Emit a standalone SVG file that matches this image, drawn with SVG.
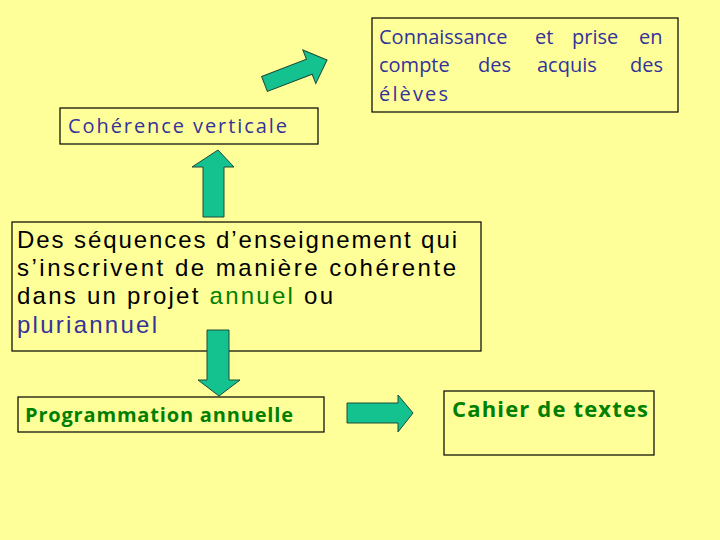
<svg xmlns="http://www.w3.org/2000/svg" width="720" height="540" viewBox="0 0 720 540">
<style>
.box{fill:#FFFF99;stroke:#000;stroke-width:1.2}
.t{font-family:"Open Sans","Liberation Sans",Arial,sans-serif}
.m{font-family:"Liberation Sans",Arial,sans-serif}
.blue{fill:#333399}
.green{fill:#008000}
.black{fill:#000}
.arrow{fill:#14C28F;stroke:#1E4A3A;stroke-width:1}
</style>
<rect width="720" height="540" fill="#FFFF99"/>
<g id="node-connaissance">
<rect class="box" x="372" y="18" width="306" height="94"/>
<text class="t blue" font-size="20" y="44"><tspan x="379">Connaissance</tspan><tspan x="535">et</tspan><tspan x="572">prise</tspan><tspan x="639">en</tspan></text>
<text class="t blue" font-size="20" y="72"><tspan x="379">compte</tspan><tspan x="478">des</tspan><tspan x="537">acquis</tspan><tspan x="630">des</tspan></text>
<text class="t blue" font-size="20" x="379" y="101" textLength="69" lengthAdjust="spacing">élèves</text>
</g>
<g id="node-coherence">
<rect class="box" x="60" y="108" width="258" height="36"/>
<text class="t blue" font-size="20" x="68" y="133" textLength="219" lengthAdjust="spacing">Cohérence verticale</text>
</g>
<g id="node-sequences">
<rect class="box" x="12" y="222" width="469" height="129"/>
<text class="m black" font-size="24" x="17" y="248" textLength="440" lengthAdjust="spacing">Des séquences d’enseignement qui</text>
<text class="m black" font-size="24" x="17" y="276" textLength="439" lengthAdjust="spacing">s’inscrivent de manière cohérente</text>
<text class="m black" font-size="24" x="17" y="304" textLength="316" lengthAdjust="spacing">dans un projet <tspan class="green">annuel</tspan> ou</text>
<text class="m blue" font-size="24" x="17" y="333" textLength="140" lengthAdjust="spacing">pluriannuel</text>
</g>
<g id="node-programmation">
<rect class="box" x="18" y="397" width="306" height="35"/>
<text class="t green" font-size="20" font-weight="bold" x="25" y="422" textLength="268" lengthAdjust="spacing">Programmation annuelle</text>
</g>
<g id="node-cahier">
<rect class="box" x="444" y="391" width="210" height="64"/>
<text class="t green" font-size="22" font-weight="bold" x="452" y="417" textLength="196" lengthAdjust="spacing">Cahier de textes</text>
</g>
<g id="connectors">
<polygon class="arrow" transform="translate(264.5,84) rotate(-21)" points="0,-8 48,-8 48,-18 67,0 48,18 48,8 0,8"/>
<polygon class="arrow" points="218,150 234,167 224,167 224,217 203,217 203,167 192,167"/>
<polygon class="arrow" points="207,330 229,330 229,380 240,380 219,396 198,380 207,380"/>
<polygon class="arrow" points="347,403 398,403 398,395 413,413 398,432 398,423 347,423"/>
</g>
</svg>
